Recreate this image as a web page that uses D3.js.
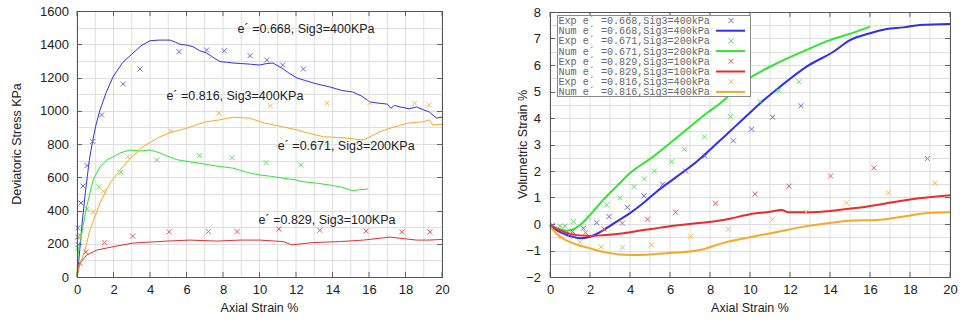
<!DOCTYPE html>
<html>
<head>
<meta charset="utf-8">
<script src="https://cdn.jsdelivr.net/npm/d3@7"></script>
<style>
  html, body { margin: 0; padding: 0; background: #fff; }
  svg { display: block; }
</style>
</head>
<body>
<svg id="chart" width="961" height="322"></svg>
<script>
// ---------------------------------------------------------
//  Triaxial test: deviatoric stress + volumetric strain
//  Exp = crosses, Num = lines, four void ratio / Sig3 cases
// ---------------------------------------------------------

const COLORS = { q668: '#2f2ff0', q671: '#2ee62e', q829: '#ee2a2a', q816: '#f9a825' };
const MARK_COLORS = { q668: '#6a6ae8', q671: '#5fe05f', q829: '#ec5a5a', q816: '#f7b84a' };
const CASES = ['q668', 'q671', 'q829', 'q816'];

const X_TICKS = [0, 2, 4, 6, 8, 10, 12, 14, 16, 18, 20];
const LEFT_Y_TICKS = [0, 200, 400, 600, 800, 1000, 1200, 1400, 1600];
const RIGHT_Y_TICKS = [-2, -1, 0, 1, 2, 3, 4, 5, 6, 7, 8];

// ---- deviatoric stress (KPa) vs axial strain (%) ----
const devNum668 = [[0,0],[0.1,100],[0.26,300],[0.45,500],[0.67,700],[0.86,820],[1.05,920],[1.26,1004],[1.6,1110],[1.97,1203],[2.5,1290],[3.07,1347],[3.5,1390],[4.0,1421],[4.5,1425],[5.1,1425],[5.4,1412],[5.64,1400],[6.0,1395],[6.36,1385],[6.7,1362],[7.1,1347],[7.5,1318],[7.84,1295],[8.2,1292],[8.55,1287],[9.0,1284],[9.5,1280],[10.0,1275],[10.4,1284],[10.74,1287],[11.2,1258],[11.6,1228],[12.05,1197],[12.5,1182],[13.0,1165],[13.86,1143],[14.5,1122],[15.1,1113],[15.6,1088],[16.05,1053],[16.5,1046],[17.0,1040],[17.2,1015],[17.4,1032],[17.7,1023],[18.2,1012],[18.6,1023],[19.0,1005],[19.3,993],[19.7,956],[20,962]];
const devExp668 = [[0.04,295],[0.05,240],[0.06,195],[0.22,445],[0.33,547],[0.55,670],[0.86,815],[1.35,975],[2.53,1161],[3.45,1251],[5.59,1355],[7.1,1365],[8.07,1361],[9.48,1331],[10.4,1305],[11.27,1275],[12.4,1251]];

const devNum671 = [[0,0],[0.06,145],[0.26,263],[0.53,423],[0.88,583],[1.26,663],[1.63,704],[1.97,722],[2.36,746],[2.9,764],[3.45,758],[4.0,764],[4.5,748],[4.93,728],[5.46,706],[6.1,694],[6.74,684],[7.6,668],[8.55,655],[9.3,630],[10.0,614],[10.6,606],[11.3,594],[11.9,586],[12.4,573],[13.1,565],[13.86,553],[14.5,540],[15.1,519],[15.5,525],[15.95,529]];
const devExp671 = [[0.04,174],[0.16,253],[0.55,408],[1.2,543],[2.4,631],[4.37,704],[6.7,730],[8.5,718],[10.36,688],[12.27,674]];

const devNum829 = [[0,0],[0.16,84],[0.53,132],[1.08,162],[1.97,182],[3.07,204],[4.93,216],[6.19,222],[7.65,216],[8.93,222],[10.0,222],[11.3,213],[11.76,193],[12.9,207],[14.4,213],[15.7,222],[17.15,240],[18.6,222],[19.3,222],[20,226]];
const devExp829 = [[0.16,84],[0.49,150],[1.5,207],[3.05,246],[5.05,271],[7.2,273],[8.77,273],[11.07,289],[13.3,281],[15.84,277],[17.8,271],[19.34,271]];

const devNum816 = [[0,0],[0.06,42],[0.44,162],[0.71,283],[1.26,445],[1.81,565],[2.36,643],[2.9,712],[3.6,783],[4.55,844],[5.26,874],[6.0,894],[6.6,918],[7.1,934],[7.8,945],[8.55,961],[9.48,955],[10.2,928],[11.2,905],[12.05,885],[12.8,862],[13.5,844],[14.2,840],[14.8,835],[15.7,824],[16.6,874],[17.3,900],[18.1,925],[19.0,934],[19.3,945],[19.5,914],[20,918]];
const devExp816 = [[0.16,237],[0.88,393],[1.45,517],[2.78,724],[5.13,878],[7.78,986],[10.6,1029],[13.7,1045],[16.05,1049],[18.5,1045],[19.3,1035]];

const devLabels = [
  { text: 'e\u00b4 =0.668, Sig3=400KPa', x: 8.8, y: 1470 },
  { text: 'e\u00b4 =0.816, Sig3=400KPa', x: 4.9, y: 1065 },
  { text: 'e\u00b4 =0.671, Sig3=200KPa', x: 11.0, y: 765 },
  { text: 'e\u00b4 =0.829, Sig3=100KPa', x: 9.95, y: 318 },
];

// ---- volumetric strain (%) vs axial strain (%) ----
const volNum668 = [[0,-0.04],[0.33,-0.23],[1.0,-0.45],[1.5,-0.54],[2.0,-0.48],[2.67,-0.23],[3.33,0.09],[4.0,0.41],[4.67,0.79],[5.33,1.22],[6.0,1.6],[6.67,1.97],[7.33,2.35],[8.0,2.8],[8.5,3.15],[9.0,3.5],[9.5,3.85],[10.5,4.55],[11.5,5.18],[12.83,5.94],[14.17,6.5],[15.0,6.94],[16.0,7.2],[16.83,7.36],[17.67,7.42],[18.5,7.51],[20,7.55]];
const volExp668 = [[0.13,-0.04],[1.13,-0.29],[1.67,-0.16],[2.33,0.05],[2.95,0.28],[3.87,0.63],[4.7,1.06],[5.63,1.5],[6.78,2.0],[7.75,2.57],[9.17,3.14],[10.08,3.58],[11.13,4.03],[12.55,4.46]];

const volNum671 = [[0,-0.04],[0.33,-0.16],[0.83,-0.25],[1.17,-0.2],[1.5,-0.04],[2.0,0.34],[2.67,0.92],[3.33,1.42],[4.0,1.92],[5.17,2.55],[6.0,3.05],[7.0,3.67],[7.83,4.18],[8.5,4.55],[9.83,5.43],[11.17,6.0],[12.83,6.57],[14.0,6.94],[15.17,7.22],[16.0,7.45]];
const volExp671 = [[0.5,-0.08],[0.75,-0.08],[1.17,0.09],[1.92,0.24],[2.83,0.72],[3.5,0.99],[4.2,1.41],[4.72,1.7],[5.22,2.0],[6.08,2.35],[6.72,2.82],[7.72,3.29],[9.03,4.05],[10.5,4.62],[11.42,5.03],[12.45,5.37]];

const volNum829 = [[0,-0.04],[0.67,-0.29],[1.33,-0.42],[2.0,-0.45],[2.67,-0.42],[3.67,-0.35],[4.67,-0.23],[5.83,-0.1],[7.0,0.0],[8.33,0.11],[9.0,0.2],[10.0,0.37],[11.0,0.46],[11.58,0.53],[11.92,0.44],[13.0,0.44],[14.0,0.49],[15.17,0.59],[16.5,0.74],[17.83,0.91],[18.83,1.0],[20,1.09]];
const volExp829 = [[1.0,-0.38],[1.78,-0.33],[2.7,-0.19],[3.62,0.03],[4.87,0.18],[6.28,0.44],[8.28,0.78],[10.25,1.13],[11.95,1.43],[14.03,1.81],[16.2,2.12],[18.87,2.47]];

const volNum816 = [[0,-0.1],[0.5,-0.48],[1.17,-0.73],[2.0,-0.92],[2.83,-1.08],[4.0,-1.17],[5.33,-1.13],[6.33,-1.08],[7.67,-0.95],[8.5,-0.75],[10.0,-0.5],[11.17,-0.33],[12.83,-0.08],[14.17,0.06],[15.17,0.13],[16.33,0.15],[17.83,0.3],[18.67,0.4],[20,0.44]];
const volExp816 = [[0.58,-0.48],[1.5,-0.67],[2.55,-0.86],[3.63,-0.88],[5.08,-0.79],[7.03,-0.48],[8.92,-0.2],[11.13,0.18],[12.8,0.46],[14.83,0.8],[16.92,1.18],[19.25,1.54]];

const legendLabels = [
  'Exp e\u00b4 =0.668,Sig3=400kPa', 'Num e\u00b4 =0.668,Sig3=400kPa',
  'Exp e\u00b4 =0.671,Sig3=200kPa', 'Num e\u00b4 =0.671,Sig3=200kPa',
  'Exp e\u00b4 =0.829,Sig3=100kPa', 'Num e\u00b4 =0.829,Sig3=100kPa',
  'Exp e\u00b4 =0.816,Sig3=400kPa', 'Num e\u00b4 =0.816,Sig3=400kPa',
];

const svg = d3.select('#chart');
const FONT = 'Liberation Sans, Arial, sans-serif';

function drawPanel(cfg) {
  const x = d3.scaleLinear().domain([0, 20]).range([cfg.l, cfg.r]);
  const y = d3.scaleLinear().domain(cfg.yDomain).range([cfg.b, cfg.t]);
  const g = svg.append('g');

  // minor grid
  g.append('g').selectAll('line').data(d3.range(0, 21, 1)).join('line')
    .attr('x1', d => x(d)).attr('x2', d => x(d))
    .attr('y1', cfg.t).attr('y2', cfg.b)
    .attr('stroke', '#dedede').attr('stroke-width', 1);
  g.append('g').selectAll('line').data(d3.range(cfg.yDomain[0], cfg.yDomain[1] + 1e-9, cfg.yMinor)).join('line')
    .attr('x1', cfg.l).attr('x2', cfg.r)
    .attr('y1', d => Math.round(y(d)) + 0.5).attr('y2', d => Math.round(y(d)) + 0.5)
    .attr('stroke', '#dedede').attr('stroke-width', 1);

  // tick marks, mirrored on all four sides
  const tk = g.append('g').attr('stroke', '#666').attr('stroke-width', 1);
  X_TICKS.forEach(v => {
    tk.append('line').attr('x1', x(v)).attr('x2', x(v)).attr('y1', cfg.b).attr('y2', cfg.b - 5);
    tk.append('line').attr('x1', x(v)).attr('x2', x(v)).attr('y1', cfg.t).attr('y2', cfg.t + 5);
  });
  cfg.yTicks.forEach(v => {
    const yy = Math.round(y(v)) + 0.5;
    tk.append('line').attr('x1', cfg.l).attr('x2', cfg.l + 5).attr('y1', yy).attr('y2', yy);
    tk.append('line').attr('x1', cfg.r).attr('x2', cfg.r - 5).attr('y1', yy).attr('y2', yy);
  });

  // axes (labels only, frame drawn separately)
  g.append('g').attr('transform', `translate(0,${cfg.b})`)
    .call(d3.axisBottom(x).tickValues(X_TICKS).tickFormat(d3.format('d')).tickSize(0).tickPadding(8))
    .call(a => a.select('.domain').remove())
    .attr('font-family', FONT).attr('font-size', 13).attr('color', '#222');
  g.append('g').attr('transform', `translate(${cfg.l},0)`)
    .call(d3.axisLeft(y).tickValues(cfg.yTicks).tickFormat(d3.format('d')).tickSize(0).tickPadding(cfg.yPad))
    .call(a => a.select('.domain').remove())
    .attr('font-family', FONT).attr('font-size', 13).attr('color', '#222');

  // series
  const line = d3.line().x(d => x(d[0])).y(d => y(d[1])).curve(cfg.curve);
  cfg.series.forEach(s => {
    g.append('path').attr('d', line(s.num))
      .attr('fill', 'none').attr('stroke', COLORS[s.key])
      .attr('stroke-width', cfg.lineW).attr('stroke-linejoin', 'round');
  });
  cfg.series.forEach(s => {
    g.append('g').selectAll('path').data(s.exp).join('path')
      .attr('d', d => { const px = x(d[0]), py = y(d[1]), r = 2.5;
        return `M${px - r},${py - r}L${px + r},${py + r}M${px - r},${py + r}L${px + r},${py - r}`; })
      .attr('stroke', MARK_COLORS[s.key]).attr('stroke-width', 1).attr('fill', 'none');
  });

  // frame
  g.append('rect').attr('x', cfg.l + 0.5).attr('y', cfg.t + 0.5)
    .attr('width', cfg.r - cfg.l).attr('height', cfg.b - cfg.t)
    .attr('fill', 'none').attr('stroke', '#555').attr('stroke-width', 1);

  // axis titles
  g.append('text').attr('x', (cfg.l + cfg.r) / 2).attr('y', 312)
    .attr('text-anchor', 'middle').attr('font-family', FONT).attr('font-size', 12.5).attr('fill', '#222')
    .text('Axial Strain %');
  g.append('text').attr('transform', `translate(${cfg.titleX},${(cfg.t + cfg.b) / 2}) rotate(-90)`)
    .attr('text-anchor', 'middle').attr('font-family', FONT).attr('font-size', 12.5).attr('fill', '#222')
    .text(cfg.yTitle);

  return { g, x, y };
}

// ---- left panel ----
const left = drawPanel({
  l: 77, r: 442, t: 11, b: 277,
  yDomain: [0, 1600], yTicks: LEFT_Y_TICKS, yMinor: 100, yPad: 8,
  yTitle: 'Deviatoric Stress KPa', titleX: 21, lineW: 1, curve: d3.curveLinear,
  series: [
    { key: 'q668', num: devNum668, exp: devExp668 },
    { key: 'q671', num: devNum671, exp: devExp671 },
    { key: 'q829', num: devNum829, exp: devExp829 },
    { key: 'q816', num: devNum816, exp: devExp816 },
  ],
});
devLabels.forEach(d => {
  left.g.append('text').attr('x', left.x(d.x)).attr('y', left.y(d.y))
    .attr('font-family', FONT).attr('font-size', 12.5).attr('fill', '#222')
    .text(d.text);
});

// ---- right panel ----
const right = drawPanel({
  l: 550, r: 950, t: 12, b: 277,
  yDomain: [-2, 8], yTicks: RIGHT_Y_TICKS, yMinor: 0.5, yPad: 9,
  yTitle: 'Volumetric Strain %', titleX: 527, lineW: 2, curve: d3.curveMonotoneX,
  series: [
    { key: 'q668', num: volNum668, exp: volExp668 },
    { key: 'q671', num: volNum671, exp: volExp671 },
    { key: 'q829', num: volNum829, exp: volExp829 },
    { key: 'q816', num: volNum816, exp: volExp816 },
  ],
});

// legend box
const lg = right.g.append('g');
lg.append('rect').attr('x', 557.5).attr('y', 15.5).attr('width', 193).attr('height', 81)
  .attr('fill', '#fff').attr('stroke', '#888').attr('stroke-width', 1);
legendLabels.forEach((t, i) => {
  const cy = 20.5 + i * 10.2;
  const key = CASES[Math.floor(i / 2)];
  lg.append('text').attr('x', 558.5).attr('y', cy + 3.5)
    .attr('font-family', 'Liberation Mono, Courier New, monospace').attr('font-size', 10.1)
    .attr('fill', '#666').text(t);
  if (i % 2 === 0) {
    const r = 2.5;
    lg.append('path')
      .attr('d', `M${731 - r},${cy - r}L${731 + r},${cy + r}M${731 - r},${cy + r}L${731 + r},${cy - r}`)
      .attr('stroke', MARK_COLORS[key]).attr('stroke-width', 1).attr('fill', 'none');
  } else {
    lg.append('line').attr('x1', 716).attr('x2', 745).attr('y1', cy).attr('y2', cy)
      .attr('stroke', COLORS[key]).attr('stroke-width', 2);
  }
});
</script>
</body>
</html>
